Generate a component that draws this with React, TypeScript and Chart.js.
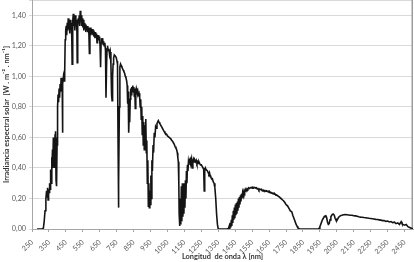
import React, { useEffect, useRef } from 'react';
import { Chart, registerables } from 'chart.js';

Chart.register(...registerables);

// Spectral irradiance: [wavelength nm, W·m⁻²·nm⁻¹]
const bandUV: [number, number][] = [
  [280, 0], [290, 0], [300, 0], [310, 0], [317, 0.005], [322, 0.05], [327, 0.12], [332, 0.2],
  [336, 0.25], [339, 0.21], [342, 0.27], [345, 0.19], [348, 0.26], [351, 0.24], [354, 0.3],
  [357, 0.26], [360, 0.39], [363, 0.3], [366, 0.47], [368, 0.38], [371, 0.52], [373, 0.4],
  [376, 0.6], [378, 0.45], [381, 0.56], [383, 0.4], [386, 0.62], [388, 0.5], [390, 0.64],
  [392, 0.32], [394, 0.6], [396, 0.28], [398, 0.55], [401, 0.8], [404, 0.88], [407, 0.83],
  [410, 0.92], [413, 0.86], [416, 0.95], [419, 0.9], [422, 0.99], [425, 0.95], [428, 0.98],
  [430, 0.63], [432, 0.95], [436, 1.0], [440, 0.97], [443, 1.02],
];

const bandVisible: [number, number][] = [
  [446, 1.24], [449, 1.3], [452, 1.33], [455, 1.27], [458, 1.35], [461, 1.3], [464, 1.38],
  [467, 1.31], [470, 1.36], [473, 1.28], [476, 1.37], [479, 1.32], [482, 1.35], [485, 1.25],
  [487, 1.08], [489, 1.28], [492, 1.36], [494, 1.41], [497, 1.33], [500, 1.38], [503, 1.3],
  [506, 1.4], [509, 1.34], [512, 1.37], [515, 1.3], [517, 1.09], [520, 1.32], [523, 1.38],
  [526, 1.35], [529, 1.4], [532, 1.33], [535, 1.43], [538, 1.36], [541, 1.4], [544, 1.33],
  [547, 1.38], [550, 1.32], [553, 1.37], [556, 1.3], [559, 1.35], [562, 1.31], [565, 1.34],
  [568, 1.29], [571, 1.33], [574, 1.3], [577, 1.33], [580, 1.29], [583, 1.32], [586, 1.28],
  [589, 1.15], [592, 1.29], [595, 1.32], [598, 1.27], [601, 1.31], [604, 1.28], [607, 1.31],
  [610, 1.27], [613, 1.3], [616, 1.26], [619, 1.29], [622, 1.25], [625, 1.29], [628, 1.26],
  [631, 1.28], [634, 1.22], [637, 1.27], [640, 1.25], [643, 1.27], [646, 1.24], [649, 1.26],
  [652, 1.2], [655, 1.06], [658, 1.22], [661, 1.25], [664, 1.23], [667, 1.25], [670, 1.21],
  [673, 1.23], [676, 1.2], [680, 1.22], [684, 1.17], [687, 0.86], [690, 1.05], [693, 1.18],
  [696, 1.2], [700, 1.17],
];

const bandNearIR: [number, number][] = [
  [704, 1.18], [708, 1.14], [712, 1.16], [716, 1.08], [720, 0.88], [723, 0.84], [726, 1.0],
  [729, 1.08], [732, 1.12], [736, 1.14], [740, 1.14], [744, 1.13], [748, 1.12], [752, 1.1],
  [755, 1.08], [758, 0.6], [760, 0.14], [763, 0.3], [766, 0.8], [769, 1.06], [773, 1.08],
  [777, 1.07], [781, 1.06], [785, 1.05], [789, 1.04], [793, 1.03], [797, 1.02], [801, 1.0],
  [805, 0.99], [809, 0.97], [812, 0.94], [815, 0.82], [818, 0.9], [821, 0.63], [824, 0.75],
  [827, 0.7], [830, 0.85], [833, 0.92], [836, 0.88], [839, 0.93], [842, 0.91], [845, 0.94],
  [848, 0.9], [851, 0.93], [854, 0.87], [857, 0.92], [860, 0.79], [863, 0.9], [866, 0.92],
  [870, 0.9], [874, 0.91], [878, 0.88], [882, 0.89], [886, 0.86], [889, 0.8], [892, 0.85],
  [895, 0.72], [898, 0.8], [901, 0.62], [904, 0.74], [907, 0.55], [910, 0.7], [913, 0.52],
  [916, 0.68], [919, 0.6], [922, 0.72], [925, 0.5], [928, 0.58], [931, 0.3], [934, 0.45],
  [937, 0.15], [940, 0.3], [943, 0.14], [946, 0.25], [949, 0.16], [952, 0.35], [955, 0.2],
  [958, 0.45], [961, 0.38], [965, 0.55], [968, 0.5], [972, 0.63], [976, 0.6], [980, 0.67],
  [984, 0.66], [988, 0.69], [992, 0.7], [996, 0.71], [1000, 0.7], [1005, 0.69], [1010, 0.68],
  [1015, 0.67], [1020, 0.66], [1025, 0.65], [1030, 0.64], [1035, 0.63], [1040, 0.625],
  [1045, 0.62], [1050, 0.61], [1055, 0.605], [1060, 0.6], [1065, 0.595], [1070, 0.59],
  [1075, 0.58], [1080, 0.575], [1085, 0.565], [1090, 0.555], [1095, 0.54], [1100, 0.53],
  [1104, 0.52], [1108, 0.5], [1111, 0.47], [1114, 0.44], [1117, 0.3], [1119, 0.1], [1121, 0.02],
  [1124, 0.06], [1127, 0.2], [1129, 0.03], [1132, 0.28], [1135, 0.05], [1138, 0.3], [1141, 0.08],
  [1144, 0.25], [1147, 0.1], [1150, 0.3], [1153, 0.14], [1156, 0.32], [1159, 0.2], [1162, 0.38],
  [1165, 0.3], [1168, 0.42], [1171, 0.38], [1174, 0.44], [1177, 0.42], [1180, 0.45], [1184, 0.46],
  [1188, 0.44], [1192, 0.46], [1196, 0.4], [1200, 0.45], [1204, 0.46], [1208, 0.44], [1212, 0.45],
  [1216, 0.44], [1220, 0.45], [1224, 0.43], [1228, 0.44], [1232, 0.43], [1236, 0.44], [1240, 0.43],
  [1245, 0.42], [1250, 0.42], [1255, 0.41], [1260, 0.4], [1264, 0.39], [1267, 0.25], [1270, 0.38],
  [1274, 0.4], [1278, 0.39], [1282, 0.39], [1286, 0.38], [1290, 0.37], [1294, 0.36], [1298, 0.37],
  [1302, 0.35], [1306, 0.34], [1310, 0.33], [1315, 0.33], [1320, 0.31], [1325, 0.3], [1330, 0.27],
  [1335, 0.2], [1340, 0.1], [1345, 0.03], [1350, 0],
];

const bandShortwaveIR: [number, number][] = [
  [1360, 0], [1380, 0], [1400, 0], [1410, 0.003], [1415, 0.02], [1418, 0], [1421, 0.04],
  [1424, 0.01], [1427, 0.06], [1430, 0.02], [1433, 0.09], [1436, 0.04], [1439, 0.12], [1442, 0.06],
  [1445, 0.14], [1448, 0.07], [1451, 0.16], [1454, 0.09], [1457, 0.17], [1460, 0.1], [1463, 0.18],
  [1466, 0.12], [1469, 0.2], [1472, 0.14], [1475, 0.21], [1478, 0.16], [1481, 0.22], [1484, 0.18],
  [1487, 0.23], [1490, 0.2], [1494, 0.24], [1498, 0.22], [1502, 0.25], [1506, 0.24], [1510, 0.26],
  [1515, 0.25], [1520, 0.265], [1525, 0.26], [1530, 0.27], [1535, 0.265], [1540, 0.27],
  [1545, 0.272], [1550, 0.268], [1555, 0.273], [1560, 0.27], [1565, 0.272], [1570, 0.268],
  [1575, 0.27], [1580, 0.262], [1585, 0.265], [1590, 0.255], [1595, 0.262], [1600, 0.258],
  [1605, 0.26], [1610, 0.25], [1615, 0.255], [1620, 0.25], [1625, 0.253], [1630, 0.247],
  [1635, 0.25], [1640, 0.245], [1645, 0.247], [1650, 0.24], [1655, 0.243], [1660, 0.237],
  [1665, 0.238], [1670, 0.232], [1675, 0.234], [1680, 0.228], [1685, 0.229], [1690, 0.222],
  [1695, 0.223], [1700, 0.217], [1705, 0.215], [1710, 0.21], [1715, 0.205], [1720, 0.2],
  [1725, 0.196], [1730, 0.19], [1735, 0.185], [1740, 0.178], [1745, 0.17], [1750, 0.16],
  [1755, 0.155], [1760, 0.15], [1765, 0.14], [1770, 0.13], [1775, 0.12], [1780, 0.115],
  [1785, 0.11], [1790, 0.09], [1795, 0.075], [1800, 0.06], [1805, 0.045], [1810, 0.03],
  [1815, 0.018], [1820, 0.008], [1825, 0.003], [1830, 0], [1850, 0], [1900, 0], [1940, 0],
];

const bandFarIR: [number, number][] = [
  [1945, 0.005], [1950, 0.015], [1955, 0.03], [1960, 0.045], [1965, 0.06], [1970, 0.07],
  [1975, 0.08], [1980, 0.085], [1985, 0.087], [1990, 0.075], [1995, 0.045], [2000, 0.03],
  [2005, 0.035], [2010, 0.06], [2015, 0.08], [2020, 0.09], [2025, 0.097], [2030, 0.098],
  [2035, 0.09], [2040, 0.07], [2045, 0.058], [2050, 0.055], [2055, 0.065], [2060, 0.075],
  [2065, 0.082], [2070, 0.086], [2080, 0.09], [2090, 0.093], [2100, 0.094], [2110, 0.093],
  [2120, 0.092], [2130, 0.09], [2140, 0.09], [2150, 0.087], [2160, 0.086], [2170, 0.083],
  [2180, 0.08], [2190, 0.078], [2200, 0.077], [2210, 0.075], [2220, 0.074], [2230, 0.072],
  [2240, 0.07], [2250, 0.069], [2260, 0.067], [2270, 0.065], [2280, 0.063], [2290, 0.062],
  [2300, 0.06], [2310, 0.058], [2320, 0.055], [2330, 0.056], [2340, 0.05], [2350, 0.052],
  [2360, 0.046], [2370, 0.049], [2380, 0.042], [2390, 0.045], [2400, 0.035], [2410, 0.04],
  [2420, 0.03], [2430, 0.048], [2435, 0.035], [2440, 0.03], [2450, 0.025], [2460, 0.03],
  [2470, 0.015], [2480, 0.01], [2490, 0.005], [2500, 0],
];

const xTickValues = [
  250, 350, 450, 550, 650, 750, 850, 950, 1050, 1150, 1250, 1350,
  1450, 1550, 1650, 1750, 1850, 1950, 2050, 2150, 2250, 2350, 2450,
];
const yTickValues = [0, 0.2, 0.4, 0.6, 0.8, 1.0, 1.2, 1.4, 1.5];

const xTitle = 'Longitud  de onda λ [nm]';
const yTitle = 'Irradiancia espectral solar  [W . m⁻² . nm⁻¹]';

const framePlugin = {
  id: 'frameRight',
  beforeDatasetsDraw(chart: any) {
    const { ctx, chartArea: a } = chart;
    ctx.save();
    ctx.strokeStyle = '#9c9c9c';
    ctx.lineWidth = 1.5;
    ctx.beginPath();
    ctx.moveTo(a.right - 0.75, a.top);
    ctx.lineTo(a.right - 0.75, a.bottom);
    ctx.stroke();
    ctx.restore();
  },
};

export default function App() {
  const canvasRef = useRef<HTMLCanvasElement | null>(null);

  useEffect(() => {
    const canvas = canvasRef.current;
    if (!canvas) return;
    const points = [...bandUV, ...bandVisible, ...bandNearIR, ...bandShortwaveIR, ...bandFarIR].map(
      ([x, y]) => ({ x, y })
    );
    const tickFont = { family: 'Lato, "Open Sans", sans-serif', size: 7.2 };
    const titleFont = { family: 'Lato, "Open Sans", sans-serif', size: 7.4, weight: 'bold' as const };

    const chart = new Chart(canvas, {
      type: 'line',
      data: {
        datasets: [
          {
            data: points,
            borderColor: '#141414',
            borderWidth: 1.6,
            pointRadius: 0,
            tension: 0,
            fill: false,
          },
        ],
      },
      plugins: [framePlugin],
      options: {
        animation: false,
        responsive: true,
        maintainAspectRatio: false,
        parsing: false,
        layout: { padding: { left: 0, right: 1, top: 0, bottom: 0 } },
        plugins: {
          legend: { display: false },
          tooltip: { enabled: false },
        },
        scales: {
          x: {
            type: 'linear',
            min: 250,
            max: 2500,
            afterBuildTicks: (scale: any) => {
              scale.ticks = xTickValues.map((v) => ({ value: v }));
            },
            afterFit: (scale: any) => {
              scale.height = 33;
              scale.paddingLeft = 0;
              scale.paddingRight = 0;
            },
            ticks: {
              autoSkip: false,
              minRotation: 45,
              maxRotation: 45,
              padding: 6,
              color: '#595959',
              font: tickFont,
              callback: (v: any) => String(v),
            },
            grid: {
              drawOnChartArea: false,
              drawTicks: true,
              tickLength: 3,
              color: '#a6a6a6',
            },
            border: { display: true, color: '#a6a6a6', width: 1 },
            title: {
              display: true,
              text: xTitle,
              color: '#363636',
              font: titleFont,
              padding: { top: 0, bottom: 1 },
            },
          },
          y: {
            type: 'linear',
            min: 0,
            max: 1.5,
            afterBuildTicks: (scale: any) => {
              scale.ticks = yTickValues.map((v) => ({ value: v }));
            },
            afterFit: (scale: any) => {
              scale.width = 32;
              scale.paddingTop = 0;
              scale.paddingBottom = 0;
            },
            ticks: {
              autoSkip: false,
              padding: 3,
              color: '#595959',
              font: tickFont,
              callback: (v: any) => (Number(v) > 1.45 ? '' : Number(v).toFixed(2).replace('.', ',')),
            },
            grid: {
              color: '#d9d9d9',
              lineWidth: 1,
              drawTicks: true,
              tickLength: 3,
            },
            border: { display: true, color: '#a6a6a6', width: 1 },
            title: {
              display: true,
              text: yTitle,
              color: '#363636',
              font: titleFont,
              padding: { top: 2, bottom: 0 },
            },
          },
        },
      },
    } as any);

    return () => chart.destroy();
  }, []);

  return (
    <div style={{ position: 'fixed', left: 0, top: 0, width: 414, height: 262, background: '#fff' }}>
      <canvas ref={canvasRef} />
    </div>
  );
}
